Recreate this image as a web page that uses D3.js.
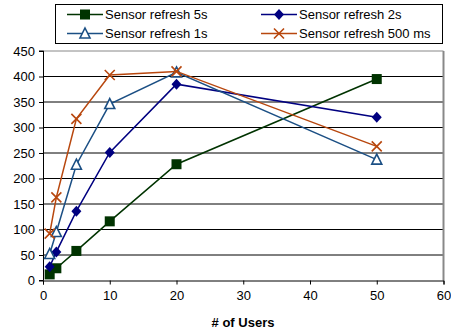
<!DOCTYPE html>
<html><head><meta charset="utf-8">
<script src="https://cdn.jsdelivr.net/npm/d3@7"></script>
<style>body{margin:0;background:#fff}svg{display:block;font-family:"Liberation Sans",Arial,sans-serif}</style>
</head><body><svg id="c" width="451" height="332"></svg>
<script>
const users = [1, 2, 5, 10, 20, 50];
const refresh5s = [12, 24, 58, 116, 228, 395];
const refresh2s = [27, 56, 136, 251, 385, 320];
const refresh1s = [52, 95, 227, 346, 408, 237];
const refresh500ms = [92, 163, 317, 403, 410, 263];
const seriesNames = ["Sensor refresh 5s", "Sensor refresh 2s", "Sensor refresh 1s", "Sensor refresh 500 ms"];
const xTicks = [0, 10, 20, 30, 40, 50, 60];
const yTicks = [0, 50, 100, 150, 200, 250, 300, 350, 400, 450];

const series = [
  {name: seriesNames[0], values: refresh5s, color: "#003300", marker: "square"},
  {name: seriesNames[1], values: refresh2s, color: "#000080", marker: "diamond"},
  {name: seriesNames[2], values: refresh1s, color: "#1B4F84", marker: "triangle"},
  {name: seriesNames[3], values: refresh500ms, color: "#B8470E", marker: "x"}
];

const svg = d3.select("#c");
const x = d3.scaleLinear().domain([0, 60]).range([43, 443.5]);
const y = d3.scaleLinear().domain([0, 450]).range([280.5, 51]);

// gridlines
svg.append("g").selectAll("line").data(yTicks.filter(d => d > 0)).join("line")
  .attr("x1", x(0)).attr("x2", x(60)).attr("y1", d => y(d)).attr("y2", d => y(d))
  .attr("stroke", d => d === 450 ? "#888" : "#000").attr("stroke-width", 1);
// right border
svg.append("line").attr("x1", x(60)).attr("x2", x(60)).attr("y1", y(450)).attr("y2", y(0))
  .attr("stroke", "#888").attr("stroke-width", 2);

// axes
const xAxis = d3.axisBottom(x).tickValues(xTicks).tickSize(4).tickPadding(6);
const gx = svg.append("g").attr("transform", `translate(0,${y(0)})`).call(xAxis);
const yAxis = d3.axisLeft(y).tickValues(yTicks).tickSize(4).tickPadding(4);
const gy = svg.append("g").attr("transform", `translate(${x(0)},0)`).call(yAxis);
[gx, gy].forEach(g => {
  g.select(".domain").attr("stroke", "#000");
  g.selectAll(".tick line").attr("stroke", "#000");
  g.selectAll("text").attr("font-size", 13).attr("fill", "#000").attr("font-family", "Liberation Sans, Arial, sans-serif");
});
gy.select(".domain").attr("d", `M-4,${y(450) - 0}H0.5V${y(0)}H-4`);

svg.append("text").attr("x", 243).attr("y", 327).attr("text-anchor", "middle")
  .attr("font-size", 13).attr("font-weight", "bold").text("# of Users");

function drawMarker(g, type, color, cx, cy, s) {
  if (type === "square") {
    g.append("rect").attr("x", cx - 5).attr("y", cy - 5).attr("width", 10).attr("height", 10).attr("fill", color);
  } else if (type === "diamond") {
    g.append("path").attr("d", `M${cx},${cy - 5.5}L${cx + 5},${cy}L${cx},${cy + 5.5}L${cx - 5},${cy}Z`).attr("fill", color);
  } else if (type === "triangle") {
    g.append("path").attr("d", `M${cx},${cy - 5.5}L${cx + 5},${cy + 4.5}L${cx - 5},${cy + 4.5}Z`)
      .attr("fill", "#fff").attr("stroke", color).attr("stroke-width", 1.6);
  } else {
    g.append("path").attr("d", `M${cx - 5},${cy - 5}L${cx + 5},${cy + 5}M${cx - 5},${cy + 5}L${cx + 5},${cy - 5}`)
      .attr("stroke", color).attr("stroke-width", 1.6).attr("fill", "none");
  }
}

const line = d3.line().x((d, i) => x(users[i])).y(d => y(d));
series.forEach(s => {
  const g = svg.append("g");
  g.append("path").attr("d", line(s.values)).attr("fill", "none").attr("stroke", s.color).attr("stroke-width", 1.5);
  s.values.forEach((v, i) => drawMarker(g, s.marker, s.color, x(users[i]), y(v)));
});

// legend
const lg = svg.append("g");
lg.append("rect").attr("x", 55.5).attr("y", 4.5).attr("width", 387).attr("height", 39)
  .attr("fill", "#fff").attr("stroke", "#000").attr("stroke-width", 1);
const legPos = [[67, 14.5], [261, 14.5], [67, 33.5], [261, 33.5]];
series.forEach((s, i) => {
  const [lx, ly] = legPos[i];
  const g = lg.append("g");
  g.append("line").attr("x1", lx).attr("x2", lx + 36).attr("y1", ly).attr("y2", ly).attr("stroke", s.color).attr("stroke-width", 1.5);
  drawMarker(g, s.marker, s.color, lx + 18, ly);
  g.append("text").attr("x", lx + 38).attr("y", ly + 4.5).attr("font-size", 13).text(s.name);
});
</script></body></html>
